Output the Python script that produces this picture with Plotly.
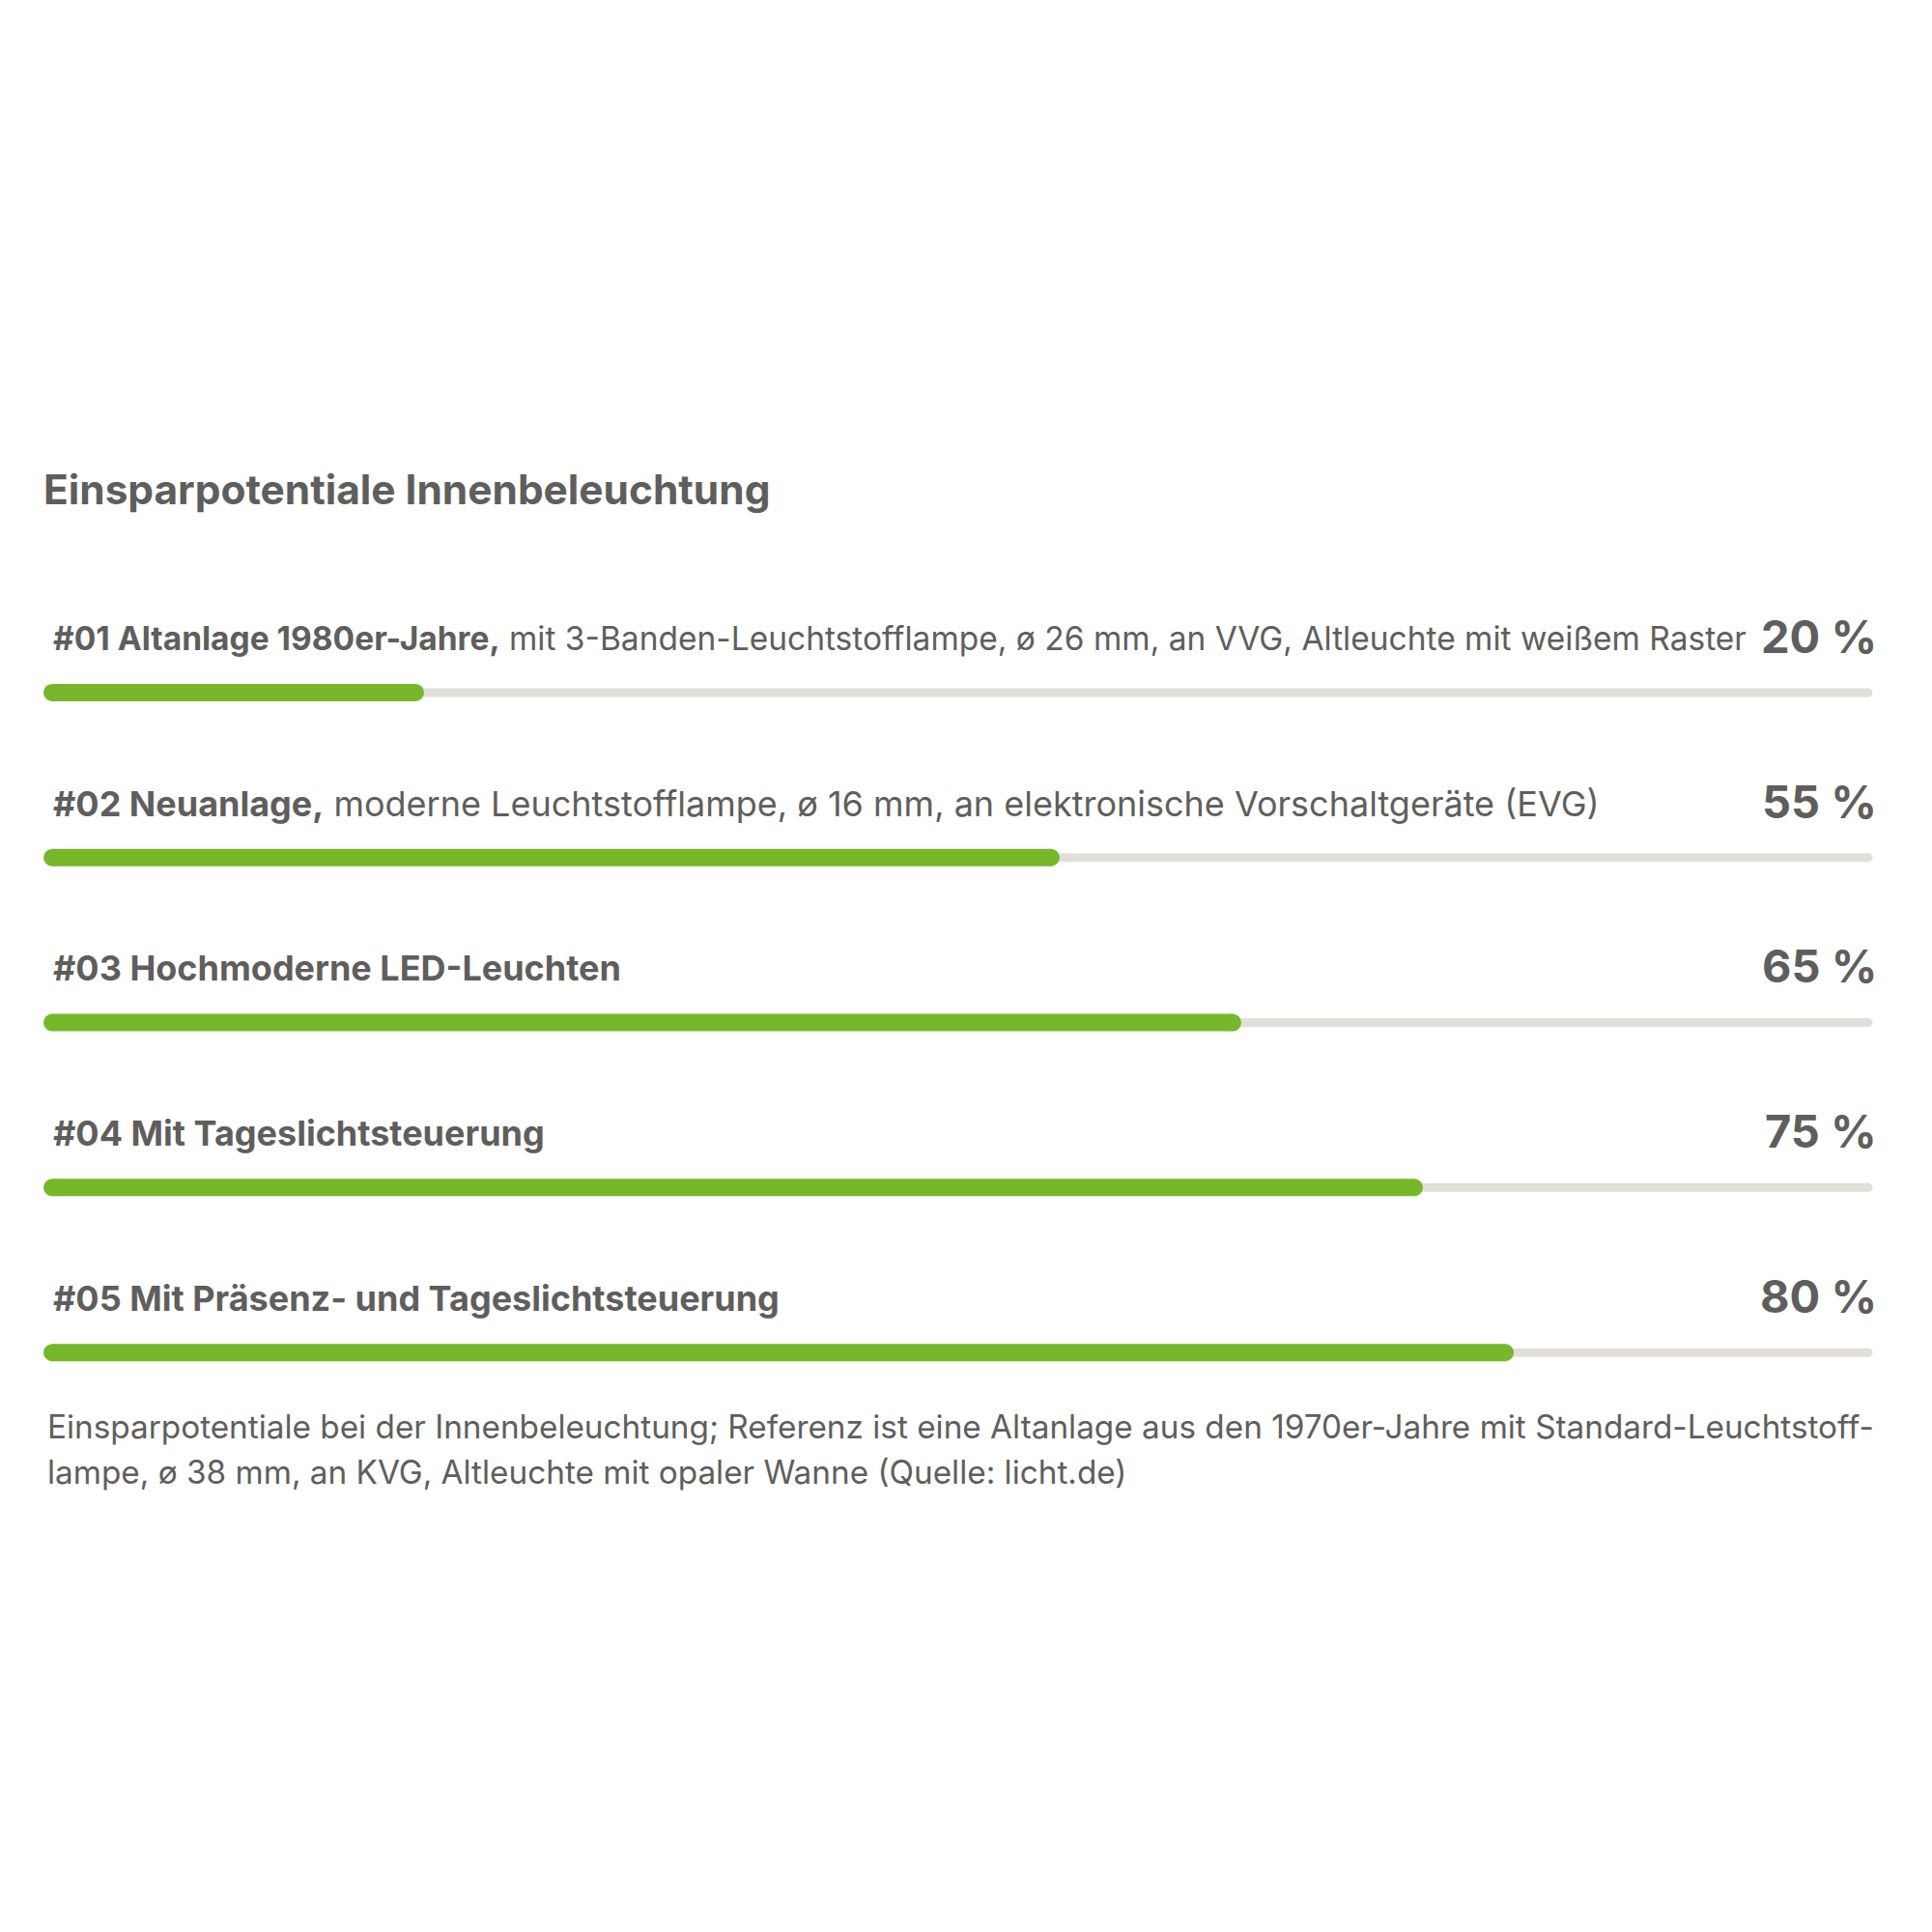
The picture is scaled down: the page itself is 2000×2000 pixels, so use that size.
import plotly.graph_objects as go

# Einsparpotentiale Innenbeleuchtung - Fortschrittsbalken je Anlage

title = 'Einsparpotentiale Innenbeleuchtung'
label_bold = ['#01 Altanlage 1980er-Jahre,',
              '#02 Neuanlage,',
              '#03 Hochmoderne LED-Leuchten',
              '#04 Mit Tageslichtsteuerung',
              '#05 Mit Präsenz- und Tageslichtsteuerung']
label_rest = [' mit 3-Banden-Leuchtstofflampe, ø 26 mm, an VVG, Altleuchte mit weißem Raster',
              ' moderne Leuchtstofflampe, ø 16 mm, an elektronische Vorschaltgeräte (EVG)',
              '', '', '']
savings = [20, 55, 65, 75, 80]
full = 100
footnote_lines = ['Einsparpotentiale bei der Innenbeleuchtung; Referenz ist eine Altanlage aus den 1970er-Jahre mit Standard-Leuchtstoff-',
                  'lampe, ø 38 mm, an KVG, Altleuchte mit opaler Wanne (Quelle: licht.de)']

GREEN = '#77b72b'
TRACK = '#e2dfdb'
TEXT = '#5f5e5d'
FONT = 'Inter'
label_size = [33.5, 36, 36, 36, 36]  # erste Zeile etwas enger gesetzt

rows = list(range(len(savings)))

fig = go.Figure()

# grauer Hintergrundbalken und gruener Balken, runde Enden ueber Marker
for r, v in zip(rows, savings):
    fig.add_trace(go.Scatter(x=[0, full], y=[r, r], mode='lines+markers', cliponaxis=False,
                             line=dict(color=TRACK, width=9),
                             marker=dict(color=TRACK, size=9, line_width=0),
                             hoverinfo='skip'))
    fig.add_trace(go.Scatter(x=[0, v], y=[r, r], mode='lines+markers', cliponaxis=False,
                             line=dict(color=GREEN, width=18),
                             marker=dict(color=GREEN, size=18, line_width=0),
                             hoverinfo='skip'))

for i, r in enumerate(rows):
    fig.add_annotation(x=0, y=r-0.329, xref='x', yref='y', xanchor='left', yanchor='middle',
                       xshift=-1, showarrow=False,
                       text='<b>'+label_bold[i]+'</b>'+label_rest[i],
                       font=dict(family=FONT, size=label_size[i], color=TEXT))
    fig.add_annotation(x=full, y=r-0.344, xref='x', yref='y', xanchor='right', yanchor='middle',
                       xshift=11, showarrow=False,
                       text='<b>'+str(savings[i])+' %</b>',
                       font=dict(family=FONT, size=47, color=TEXT))

fig.add_annotation(x=0, y=-1.234, xref='x', yref='y', xanchor='left', yanchor='middle',
                   xshift=-11, showarrow=False, text='<b>'+title+'</b>',
                   font=dict(family=FONT, size=42.4, color=TEXT))

for j, line in enumerate(footnote_lines):
    fig.add_annotation(x=0, y=4.452+j*0.272, xref='x', yref='y', xanchor='left', yanchor='middle',
                       xshift=-7, showarrow=False, text=line,
                       font=dict(family=FONT, size=33.3, color=TEXT))

fig.update_layout(width=2000, height=2000, margin=dict(l=45.5, r=74.3, t=0, b=0),
                  paper_bgcolor='white', plot_bgcolor='white', showlegend=False)
fig.update_xaxes(range=[0, 100], visible=False, fixedrange=True)
fig.update_yaxes(range=[7.559, -4.151], visible=False, fixedrange=True)

fig.write_html('out.html')
